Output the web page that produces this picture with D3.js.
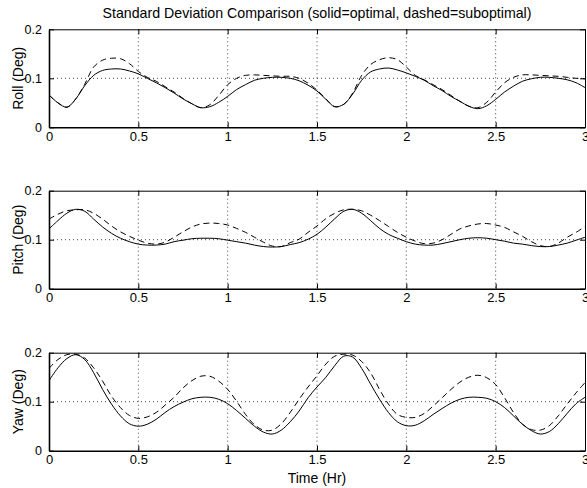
<!DOCTYPE html>
<html>
<head>
<meta charset="utf-8">
<script src="https://cdn.jsdelivr.net/npm/d3@7"></script>
<style>
  body { margin: 0; background: #fff; }
  svg text { font-family: "Liberation Sans", Arial, sans-serif; fill: #000; }
</style>
</head>
<body>
<div id="viz"></div>
<script>
const wh = 587,
    ht = 488;

// time axis (hours)
const timeHr = [0, 0.05, 0.1, 0.15, 0.2, 0.25, 0.3, 0.35, 0.4, 0.45,
    0.5, 0.55, 0.6, 0.65, 0.7, 0.75, 0.8, 0.85, 0.9, 0.95,
    1, 1.05, 1.1, 1.15, 1.2, 1.25, 1.3, 1.35, 1.4, 1.45,
    1.5, 1.55, 1.6, 1.65, 1.7, 1.75, 1.8, 1.85, 1.9, 1.95,
    2, 2.05, 2.1, 2.15, 2.2, 2.25, 2.3, 2.35, 2.4, 2.45,
    2.5, 2.55, 2.6, 2.65, 2.7, 2.75, 2.8, 2.85, 2.9, 2.95, 3]

// std dev, solid = optimal, dashed = suboptimal
const rollOpt = [0.066, 0.050, 0.041, 0.058, 0.085, 0.106, 0.116, 0.119, 0.119, 0.115,
    0.109, 0.100, 0.091, 0.081, 0.070, 0.058, 0.048, 0.040, 0.042, 0.051,
    0.063, 0.077, 0.087, 0.096, 0.100, 0.102, 0.102, 0.100, 0.095, 0.086,
    0.074, 0.057, 0.042, 0.047, 0.068, 0.096, 0.113, 0.119, 0.121, 0.117,
    0.111, 0.104, 0.096, 0.085, 0.075, 0.063, 0.053, 0.043, 0.038, 0.044,
    0.057, 0.072, 0.084, 0.094, 0.099, 0.102, 0.102, 0.100, 0.097, 0.091, 0.081]
const rollSub = [0.066, 0.050, 0.041, 0.058, 0.088, 0.123, 0.137, 0.141, 0.140, 0.130,
    0.114, 0.102, 0.094, 0.083, 0.072, 0.059, 0.048, 0.040, 0.046, 0.065,
    0.087, 0.100, 0.106, 0.107, 0.106, 0.105, 0.104, 0.104, 0.100, 0.090,
    0.076, 0.058, 0.042, 0.047, 0.070, 0.106, 0.128, 0.138, 0.142, 0.138,
    0.123, 0.106, 0.097, 0.087, 0.077, 0.065, 0.053, 0.043, 0.040, 0.051,
    0.072, 0.091, 0.102, 0.107, 0.107, 0.106, 0.105, 0.104, 0.102, 0.100, 0.099]

const pitchOpt = [0.122, 0.139, 0.154, 0.162, 0.158, 0.142, 0.126, 0.113, 0.103, 0.096,
    0.091, 0.089, 0.089, 0.091, 0.096, 0.099, 0.102, 0.103, 0.103, 0.102,
    0.099, 0.096, 0.093, 0.089, 0.086, 0.085, 0.086, 0.090, 0.094, 0.101,
    0.111, 0.126, 0.143, 0.158, 0.162, 0.154, 0.139, 0.123, 0.111, 0.103,
    0.096, 0.091, 0.089, 0.089, 0.092, 0.096, 0.100, 0.103, 0.104, 0.103,
    0.100, 0.097, 0.093, 0.091, 0.088, 0.086, 0.086, 0.089, 0.093, 0.099, 0.105]
const pitchSub = [0.142, 0.152, 0.159, 0.161, 0.161, 0.154, 0.142, 0.128, 0.116, 0.107,
    0.099, 0.093, 0.091, 0.095, 0.105, 0.116, 0.126, 0.132, 0.134, 0.133,
    0.130, 0.123, 0.115, 0.105, 0.095, 0.087, 0.086, 0.094, 0.101, 0.115,
    0.128, 0.143, 0.154, 0.161, 0.162, 0.159, 0.150, 0.139, 0.127, 0.115,
    0.105, 0.097, 0.092, 0.093, 0.100, 0.111, 0.122, 0.128, 0.132, 0.133,
    0.130, 0.125, 0.116, 0.107, 0.096, 0.088, 0.086, 0.093, 0.105, 0.115, 0.127]

const yawOpt = [0.143, 0.169, 0.188, 0.196, 0.186, 0.159, 0.125, 0.095, 0.071, 0.055,
    0.050, 0.054, 0.064, 0.078, 0.090, 0.099, 0.106, 0.109, 0.109, 0.105,
    0.096, 0.082, 0.066, 0.050, 0.038, 0.034, 0.042, 0.059, 0.081, 0.108,
    0.130, 0.150, 0.174, 0.193, 0.191, 0.168, 0.136, 0.105, 0.078, 0.059,
    0.051, 0.052, 0.061, 0.074, 0.086, 0.097, 0.105, 0.109, 0.109, 0.107,
    0.100, 0.088, 0.071, 0.054, 0.041, 0.034, 0.039, 0.055, 0.076, 0.096, 0.109]
const yawSub = [0.168, 0.186, 0.196, 0.197, 0.189, 0.169, 0.142, 0.111, 0.088, 0.072,
    0.066, 0.069, 0.078, 0.093, 0.109, 0.128, 0.143, 0.152, 0.152, 0.142,
    0.125, 0.101, 0.074, 0.053, 0.042, 0.042, 0.055, 0.078, 0.105, 0.130,
    0.153, 0.177, 0.193, 0.197, 0.195, 0.182, 0.159, 0.125, 0.095, 0.074,
    0.068, 0.068, 0.076, 0.091, 0.108, 0.125, 0.140, 0.150, 0.154, 0.149,
    0.135, 0.108, 0.078, 0.054, 0.043, 0.042, 0.051, 0.071, 0.095, 0.118, 0.139]

const panelNames = ["Roll (Deg)", "Pitch (Deg)", "Yaw (Deg)"]
const xTicks = [0, 0.5, 1, 1.5, 2, 2.5, 3]
const yTicks = [0, 0.1, 0.2]

const panels = [
    { label: panelNames[0], opt: rollOpt, sub: rollSub },
    { label: panelNames[1], opt: pitchOpt, sub: pitchSub },
    { label: panelNames[2], opt: yawOpt, sub: yawSub }
]

const left = 49,
    right = 585,
    tops = [29.3, 190.7, 352.7],
    ph = 98;

const svg = d3.select("#viz")
    .append("svg")
    .attr("width", wh)
    .attr("height", ht)

const x = d3.scaleLinear()
    .domain([0, 3])
    .range([left, right])

svg.append("text")
    .attr("x", (left + right) / 2)
    .attr("y", 18)
    .attr("text-anchor", "middle")
    .style("font-size", "14.2px")
    .text("Standard Deviation Comparison (solid=optimal, dashed=suboptimal)")

panels.forEach(function(p, i) {
    const top = tops[i],
        bottom = top + ph;

    const y = d3.scaleLinear()
        .domain([0, 0.2])
        .range([bottom, top])

    const g = svg.append("g").attr("class", "panel")

    g.append("clipPath")
        .attr("id", "clip" + i)
        .append("rect")
        .attr("x", left)
        .attr("y", top)
        .attr("width", right - left)
        .attr("height", ph)

    // dotted grid
    g.selectAll(".gx").data(xTicks.slice(1, -1))
        .enter().append("line")
        .attr("x1", d => x(d)).attr("x2", d => x(d))
        .attr("y1", top).attr("y2", bottom)
        .attr("stroke", "#444")
        .attr("stroke-dasharray", "1,3")
    g.selectAll(".gy").data([0.1])
        .enter().append("line")
        .attr("x1", left).attr("x2", right)
        .attr("y1", d => y(d)).attr("y2", d => y(d))
        .attr("stroke", "#444")
        .attr("stroke-dasharray", "1,3")

    const line = d3.line()
        .x((d, k) => x(timeHr[k]))
        .y(d => y(d))
        .curve(d3.curveCatmullRom)

    g.append("path")
        .datum(p.sub)
        .attr("clip-path", "url(#clip" + i + ")")
        .attr("fill", "none")
        .attr("stroke", "#000")
        .attr("stroke-width", 1)
        .attr("stroke-dasharray", "6,4")
        .attr("d", line)

    g.append("path")
        .datum(p.opt)
        .attr("clip-path", "url(#clip" + i + ")")
        .attr("fill", "none")
        .attr("stroke", "#000")
        .attr("stroke-width", 1)
        .attr("d", line)

    // axes, matlab style ticks pointing in
    const bottomAxis = d3.axisBottom(x)
        .tickValues(xTicks)
        .tickFormat(d3.format("~g"))
        .tickSizeInner(-5)
        .tickSizeOuter(0)
        .tickPadding(4)
    const xa = g.append("g")
        .attr("transform", "translate(0," + bottom + ")")
        .call(bottomAxis)
    xa.selectAll("text").style("font-size", "13px")
    xa.select(".domain").attr("stroke-width", 1.6)

    const topAxis = d3.axisTop(x)
        .tickValues(xTicks)
        .tickFormat("")
        .tickSizeInner(-5)
        .tickSizeOuter(0)
    g.append("g")
        .attr("transform", "translate(0," + top + ")")
        .call(topAxis)

    const leftAxis = d3.axisLeft(y)
        .tickValues(yTicks)
        .tickFormat(d => d === 0 ? "0" : d3.format(".1f")(d))
        .tickSizeInner(-5)
        .tickSizeOuter(0)
        .tickPadding(7)
    const ya = g.append("g")
        .attr("transform", "translate(" + left + ",0)")
        .call(leftAxis)
    ya.selectAll("text").style("font-size", "12.5px")
    ya.select(".domain").attr("stroke-width", 1.6)

    const rightAxis = d3.axisRight(y)
        .tickValues(yTicks)
        .tickFormat("")
        .tickSizeInner(-5)
        .tickSizeOuter(0)
    g.append("g")
        .attr("transform", "translate(" + right + ",0)")
        .call(rightAxis)

    g.append("text")
        .attr("transform", "translate(22.5," + (top + ph / 2) + ") rotate(-90)")
        .attr("text-anchor", "middle")
        .style("font-size", "14px")
        .text(p.label)
})

svg.append("text")
    .attr("x", (left + right) / 2)
    .attr("y", 483)
    .attr("text-anchor", "middle")
    .style("font-size", "14px")
    .text("Time (Hr)")
</script>
</body>
</html>
